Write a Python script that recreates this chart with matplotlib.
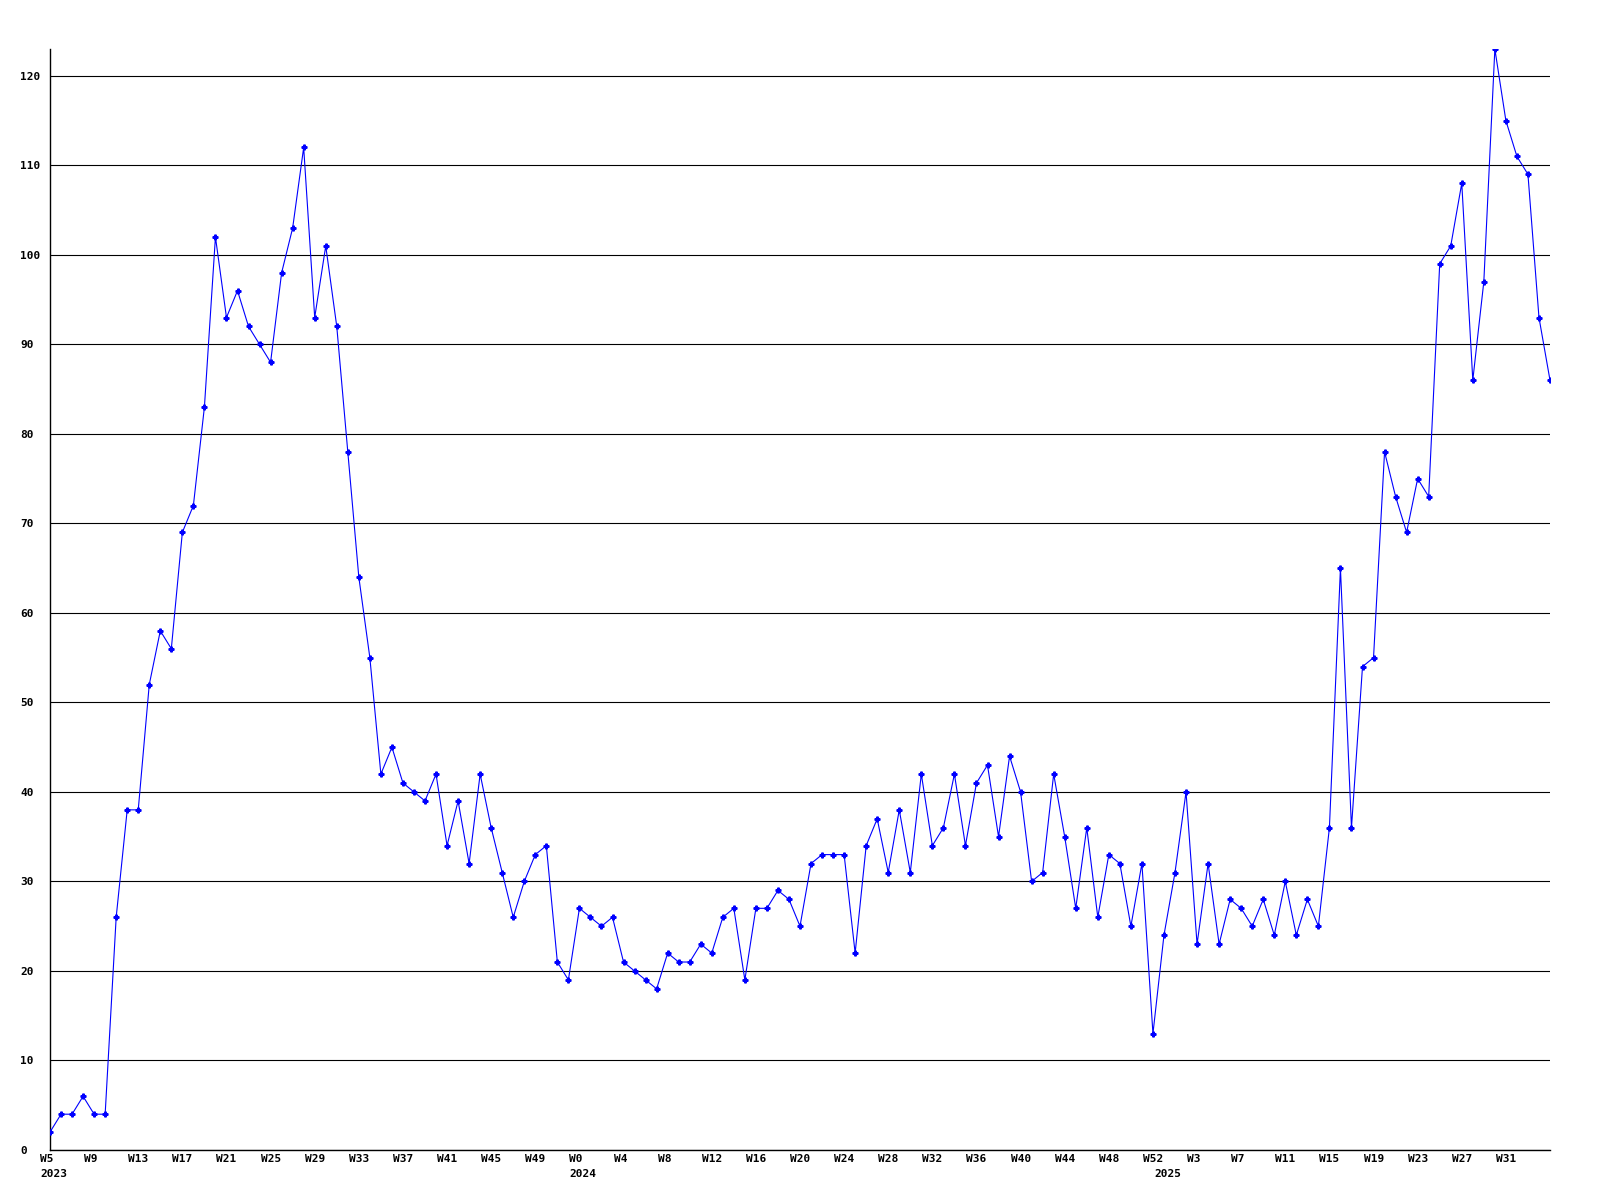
import matplotlib
matplotlib.use('Agg')
import matplotlib.pyplot as plt
from matplotlib.transforms import ScaledTranslation

# weekly counts
weeks_2023 = list(range(5, 53))
values_2023 = [2, 4, 4, 6, 4, 4, 26, 38, 38, 52, 58, 56,
               69, 72, 83, 102, 93, 96, 92, 90, 88, 98, 103, 112,
               93, 101, 92, 78, 64, 55, 42, 45, 41, 40, 39, 42,
               34, 39, 32, 42, 36, 31, 26, 30, 33, 34, 21, 19]

weeks_2024 = list(range(0, 53))
values_2024 = [27, 26, 25, 26, 21, 20, 19, 18, 22, 21, 21, 23,
               22, 26, 27, 19, 27, 27, 29, 28, 25, 32, 33, 33,
               33, 22, 34, 37, 31, 38, 31, 42, 34, 36, 42, 34,
               41, 43, 35, 44, 40, 30, 31, 42, 35, 27, 36, 26,
               33, 32, 25, 32, 13]

weeks_2025 = list(range(0, 36))
values_2025 = [24, 31, 40, 23, 32, 23, 28, 27, 25, 28, 24, 30,
               24, 28, 25, 36, 65, 36, 54, 55, 78, 73, 69, 75,
               73, 99, 101, 108, 86, 97, 123, 115, 111, 109, 93, 86]

years = [2023, 2024, 2025]
weeks = weeks_2023 + weeks_2024 + weeks_2025
values = values_2023 + values_2024 + values_2025
year_of = [2023] * len(weeks_2023) + [2024] * len(weeks_2024) + [2025] * len(weeks_2025)
x = list(range(len(values)))

font = matplotlib.font_manager.FontProperties(family='DejaVu Sans Mono',
                                              weight='bold', size=8)

fig = plt.figure(figsize=(16, 12), dpi=100)
ax = fig.add_axes([50 / 1600, 1 - 1150 / 1200, 1500 / 1600, 1101 / 1200])

ax.plot(x, values, color='#0000ff', lw=0.8, marker='P', ms=3.5,
        mec='#0000ff', mfc='#0000ff', zorder=3)

ax.set_xlim(0, len(values) - 1)
ax.set_ylim(0, 123)
ax.set_yticks(range(0, 121, 10))
ax.yaxis.grid(True, color='black', lw=0.8)
ax.set_axisbelow(True)
for s in ['top', 'right']:
    ax.spines[s].set_visible(False)
for s in ['left', 'bottom']:
    ax.spines[s].set_linewidth(1.0)

# week labels every 4 weeks, year label under first week of each year
tick_idx = x[0:-1:4]
ax.set_xticks(tick_idx)
ax.set_xticklabels(['W{}'.format(weeks[i]) for i in tick_idx])
year_idx = [year_of.index(y) for y in years]
ax.xaxis.remove_overlapping_locs = False
ax.set_xticks(year_idx, minor=True)
ax.set_xticklabels([str(y) for y in years], minor=True)

ax.tick_params(axis='both', which='both', length=0)
ax.tick_params(axis='x', which='major', pad=3)
ax.tick_params(axis='x', which='minor', pad=14)
ax.tick_params(axis='y', pad=21.6)

shift = ScaledTranslation(-10 / 100, 0, fig.dpi_scale_trans)
for t in ax.xaxis.get_major_ticks() + ax.xaxis.get_minor_ticks():
    t.label1.set_horizontalalignment('left')
    t.label1.set_fontproperties(font)
    t.label1.set_transform(t.label1.get_transform() + shift)
for t in ax.yaxis.get_major_ticks():
    t.label1.set_horizontalalignment('left')
    t.label1.set_fontproperties(font)

fig.savefig('out.png', dpi=100)
